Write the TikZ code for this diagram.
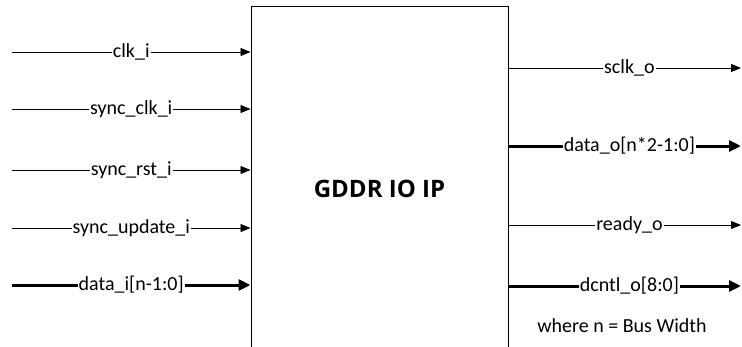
\documentclass[tikz,border=0pt]{standalone}
\usepackage{fontspec}
\setmainfont{Carlito}
\newfontfamily\titlefont{Open Sans}
\usetikzlibrary{arrows.meta, positioning}

\begin{document}
\begin{tikzpicture}[x=1pt, y=-1pt,
    ipbox/.style={draw, line width=1pt, minimum width=257pt, minimum height=366pt},
    sig/.style={line width=0.9pt, -{Triangle[length=10pt, width=8pt]}},
    bus/.style={line width=3pt, -{Triangle[length=12pt, width=11pt]}},
    siglabel/.style={fill=white, inner sep=1pt, font=\fontsize{20}{22}\selectfont}]
  \useasboundingbox (0,0) rectangle (742,346);
  \clip (0,0) rectangle (742,346);

  \node[ipbox, font=\titlefont\bfseries\fontsize{24}{27}\selectfont] (ip) at (379.5,189) {GDDR IO IP};

  % inputs
  \foreach \i/\y/\name/\kind in {
    1/52/{clk\_i}/sig,
    2/109/{sync\_clk\_i}/sig,
    3/170/{sync\_rst\_i}/sig,
    4/228/{sync\_update\_i}/sig,
    5/285/{data\_i[n-1:0]}/bus}{
    \coordinate (in\i) at (12,\y);
    \draw[\kind] (in\i) -- (in\i -| ip.west) node[siglabel, midway] (inl\i) {\name};
  }

  % outputs
  \foreach \i/\y/\name/\kind in {
    1/68/{sclk\_o}/sig,
    2/146/{data\_o[n*2-1:0]}/bus,
    3/225/{ready\_o}/sig,
    4/286/{dcntl\_o[8:0]}/bus}{
    \coordinate (out\i) at (741,\y);
    \draw[\kind] (ip.east |- out\i) -- (out\i) node[siglabel, pos=0.52] (outl\i) {\name};
  }

  \node[font=\fontsize{20}{22}\selectfont] (note) at (622,326) {where n = Bus Width};
\end{tikzpicture}
\end{document}
